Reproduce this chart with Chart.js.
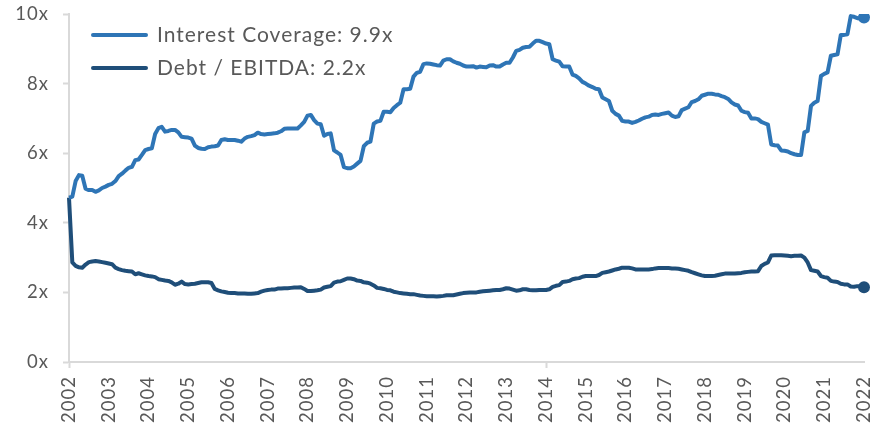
<!DOCTYPE html>
<html>
<head>
<meta charset="utf-8">
<script src="https://cdn.jsdelivr.net/npm/chart.js@4.4.1/dist/chart.umd.min.js"></script>
<style>
html,body{margin:0;padding:0;background:#fff;}
#wrap{width:883px;height:427px;position:relative;}
</style>
</head>
<body>
<div id="wrap"><canvas id="c" width="883" height="427"></canvas></div>
<script>
// Tick labels (years)
const years = ['2002','2003','2004','2005','2006','2007','2008','2009','2010','2011','2012','2013','2014','2015','2016','2017','2018','2019','2020','2021','2022'];
// Monthly categories Jan-2002 .. Jan-2022
const months = [];
years.forEach((y, k) => {
  const n = (k === years.length - 1) ? 1 : 12;
  for (let m = 1; m <= n; m++) months.push(y + '-' + String(m).padStart(2, '0'));
});

const seriesNames = ['Interest Coverage: 9.9x', 'Debt / EBITDA: 2.2x'];

const interestCoverage = [
  4.72,4.75,5.2,5.37,5.35,4.98,4.94,4.94,4.89,4.93,5.0,5.04,
  5.09,5.12,5.2,5.34,5.41,5.5,5.58,5.61,5.8,5.82,5.95,6.09,
  6.12,6.14,6.55,6.72,6.76,6.62,6.64,6.67,6.67,6.6,6.47,6.46,
  6.45,6.42,6.22,6.15,6.13,6.12,6.17,6.19,6.2,6.22,6.38,6.4,
  6.38,6.38,6.38,6.36,6.33,6.42,6.47,6.49,6.52,6.59,6.55,6.54,
  6.55,6.56,6.57,6.59,6.63,6.7,6.71,6.71,6.71,6.71,6.8,6.9,
  7.08,7.1,6.95,6.85,6.83,6.5,6.55,6.57,6.08,6.02,5.95,5.6,
  5.57,5.57,5.62,5.7,5.78,6.2,6.3,6.33,6.85,6.91,6.93,7.19,
  7.19,7.18,7.3,7.38,7.45,7.84,7.84,7.85,8.2,8.31,8.34,8.56,
  8.58,8.57,8.55,8.53,8.52,8.66,8.7,8.7,8.64,8.6,8.57,8.52,
  8.49,8.49,8.5,8.46,8.49,8.48,8.47,8.52,8.53,8.49,8.49,8.55,
  8.6,8.6,8.75,8.94,8.97,9.03,9.05,9.06,9.15,9.23,9.23,9.19,
  9.15,9.13,8.7,8.66,8.63,8.5,8.49,8.49,8.26,8.22,8.15,8.05,
  8.0,7.94,7.9,7.85,7.84,7.6,7.55,7.5,7.22,7.13,7.08,6.93,
  6.91,6.91,6.87,6.9,6.94,6.99,7.03,7.05,7.1,7.11,7.1,7.13,
  7.15,7.17,7.08,7.04,7.06,7.24,7.28,7.32,7.47,7.5,7.55,7.65,
  7.68,7.71,7.71,7.69,7.68,7.64,7.61,7.56,7.46,7.4,7.37,7.22,
  7.18,7.16,7.0,7.0,6.98,6.9,6.86,6.82,6.25,6.23,6.22,6.08,
  6.07,6.05,6.0,5.97,5.95,5.95,6.6,6.64,7.36,7.45,7.5,8.22,
  8.28,8.32,8.8,8.82,8.84,9.4,9.4,9.42,9.94,9.92,9.88,9.87,
  9.9
];

const debtEbitda = [
  4.72,2.86,2.76,2.72,2.71,2.8,2.87,2.89,2.9,2.89,2.87,2.85,
  2.83,2.81,2.71,2.67,2.64,2.62,2.61,2.6,2.52,2.55,2.52,2.49,
  2.47,2.46,2.44,2.38,2.36,2.34,2.33,2.29,2.22,2.25,2.31,2.24,
  2.23,2.24,2.25,2.27,2.29,2.29,2.29,2.27,2.1,2.06,2.03,2.01,
  1.99,1.98,1.98,1.97,1.97,1.97,1.96,1.96,1.97,1.98,2.02,2.05,
  2.07,2.08,2.08,2.11,2.11,2.12,2.12,2.13,2.14,2.14,2.15,2.1,
  2.04,2.04,2.05,2.06,2.08,2.14,2.16,2.18,2.28,2.31,2.32,2.36,
  2.4,2.4,2.38,2.34,2.33,2.29,2.28,2.25,2.2,2.13,2.12,2.1,
  2.07,2.06,2.02,2.0,1.98,1.97,1.96,1.95,1.95,1.93,1.91,1.9,
  1.89,1.89,1.89,1.88,1.89,1.9,1.92,1.92,1.92,1.94,1.96,1.98,
  1.99,2.0,2.0,2.0,2.02,2.03,2.04,2.05,2.06,2.07,2.07,2.09,
  2.12,2.11,2.08,2.05,2.06,2.09,2.09,2.07,2.06,2.06,2.07,2.07,
  2.07,2.09,2.16,2.19,2.21,2.3,2.31,2.33,2.38,2.4,2.41,2.45,
  2.47,2.47,2.47,2.47,2.5,2.56,2.58,2.6,2.63,2.66,2.68,2.71,
  2.71,2.71,2.69,2.66,2.66,2.66,2.66,2.66,2.67,2.69,2.7,2.7,
  2.7,2.7,2.69,2.69,2.68,2.66,2.64,2.62,2.58,2.55,2.52,2.49,
  2.47,2.47,2.47,2.48,2.5,2.52,2.54,2.54,2.54,2.54,2.55,2.56,
  2.58,2.59,2.6,2.6,2.61,2.76,2.82,2.86,3.06,3.07,3.07,3.07,
  3.06,3.05,3.04,3.05,3.05,3.06,3.0,2.86,2.64,2.62,2.6,2.47,
  2.44,2.42,2.33,2.31,2.3,2.25,2.23,2.23,2.17,2.16,2.18,2.18,
  2.15
];

const yTicks = [0, 2, 4, 6, 8, 10];
const colors = ['#2E75B6', '#1F4E79'];
const textColor = '#595959';
const axisColor = '#D9D9D9';
const FONT = 'Lato, "Open Sans", sans-serif';

const lastIdx = months.length - 1;
const endPoint = (ctx) => ctx.dataIndex === lastIdx ? 6 : 0;

const spacing = {
  id: 'spacing',
  beforeDraw(chart) { chart.ctx.letterSpacing = '1px'; }
};

const insideLegend = {
  id: 'insideLegend',
  afterDraw(chart) {
    const { ctx, chartArea } = chart;
    ctx.save();
    ctx.letterSpacing = '1px';
    chart.data.datasets.forEach((ds, i) => {
      const y = chartArea.top + 21 + i * 33;
      const x0 = chartArea.left + 24;
      ctx.strokeStyle = ds.borderColor;
      ctx.lineWidth = 4;
      ctx.lineCap = 'round';
      ctx.beginPath();
      ctx.moveTo(x0, y);
      ctx.lineTo(x0 + 53, y);
      ctx.stroke();
      ctx.fillStyle = textColor;
      ctx.font = '21px ' + FONT;
      ctx.textBaseline = 'middle';
      ctx.textAlign = 'left';
      ctx.fillText(ds.label, x0 + 64, y);
    });
    ctx.restore();
  }
};

new Chart(document.getElementById('c'), {
  type: 'line',
  data: {
    labels: months,
    datasets: [
      { label: seriesNames[0], data: interestCoverage, borderColor: colors[0], backgroundColor: colors[0],
        borderWidth: 4, tension: 0, borderJoinStyle: 'round', pointRadius: endPoint, pointHoverRadius: endPoint,
        pointBackgroundColor: colors[0], pointBorderWidth: 0 },
      { label: seriesNames[1], data: debtEbitda, borderColor: colors[1], backgroundColor: colors[1],
        borderWidth: 4, tension: 0, borderJoinStyle: 'round', pointRadius: endPoint, pointHoverRadius: endPoint,
        pointBackgroundColor: colors[1], pointBorderWidth: 0 }
    ]
  },
  options: {
    responsive: false,
    animation: false,
    events: [],
    layout: { padding: { left: 0, right: 19, top: 14, bottom: 0 } },
    plugins: { legend: { display: false }, tooltip: { enabled: false } },
    scales: {
      x: {
        type: 'category',
        offset: false,
        border: { display: true, color: axisColor, width: 2 },
        grid: {
          display: true, drawOnChartArea: false, drawTicks: true, tickLength: 6, tickWidth: 2,
          tickColor: (c) => (c.index % 12 === 0 ? axisColor : 'rgba(0,0,0,0)')
        },
        ticks: {
          autoSkip: false, minRotation: 90, maxRotation: 90, padding: 8,
          color: textColor, font: { family: FONT, size: 18.5 },
          callback: function (v, i) { return i % 12 === 0 ? years[i / 12] : null; }
        },
        afterFit: (s) => { s.height = 65; s.paddingLeft = 0; s.paddingRight = 0; }
      },
      y: {
        min: yTicks[0], max: yTicks[yTicks.length - 1],
        border: { display: true, color: axisColor, width: 2 },
        grid: { display: true, drawOnChartArea: false, drawTicks: true, tickLength: 6, tickWidth: 2, color: axisColor },
        afterBuildTicks: (s) => { s.ticks = yTicks.map(v => ({ value: v })); },
        ticks: { padding: 14, color: textColor, font: { family: FONT, size: 18.5 }, callback: (v) => v + 'x' },
        afterFit: (s) => { s.width = 69; s.paddingTop = 0; s.paddingBottom = 0; }
      }
    }
  },
  plugins: [spacing, insideLegend]
});
</script>
</body>
</html>
